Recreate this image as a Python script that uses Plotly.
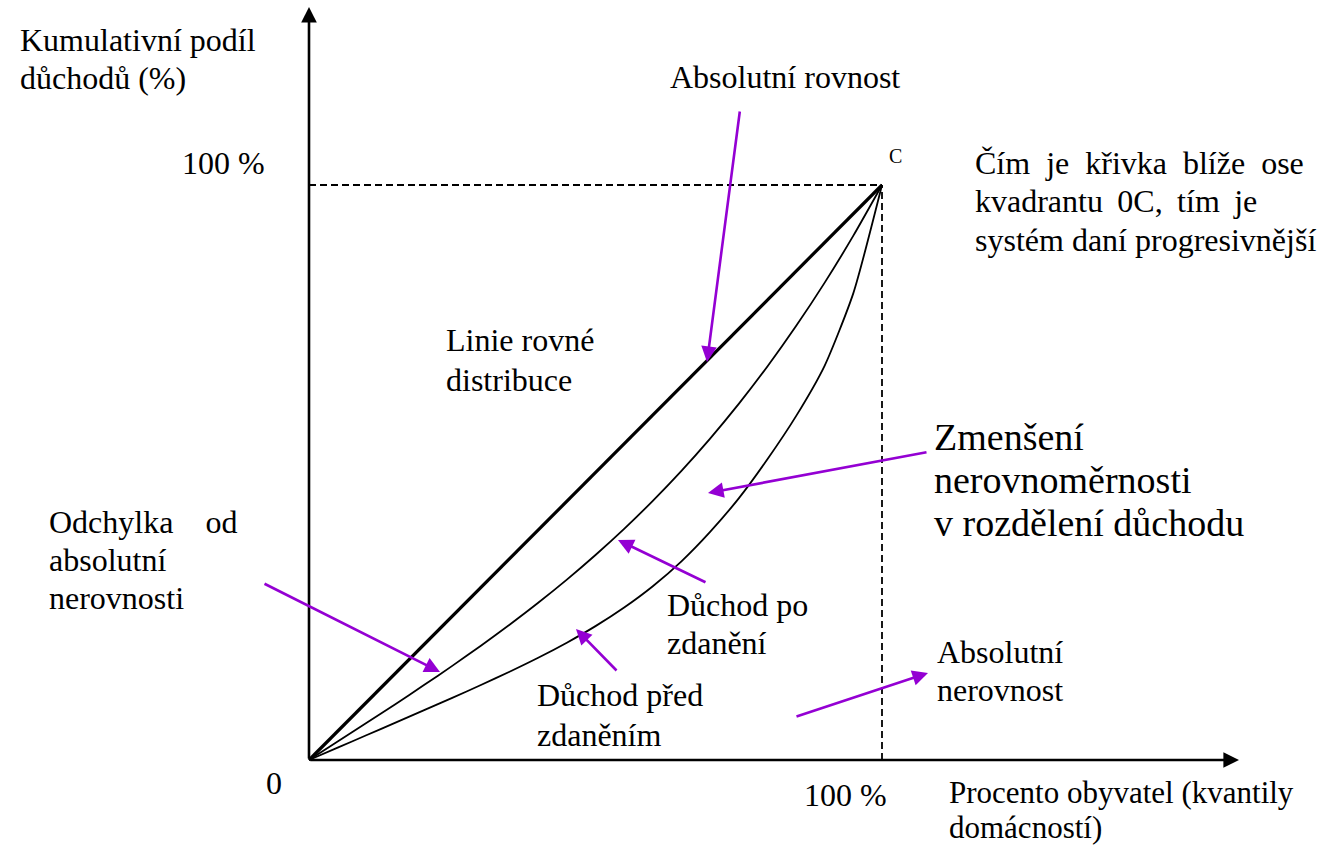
import plotly.graph_objects as go

# ---- data (percent of households vs cumulative share of income) ----
equality_x = [0, 100]
equality_y = [0, 100]
pct = [0, 5, 10, 15, 20, 25, 30, 35, 40, 45, 50, 55, 60, 65, 70, 75, 80, 85, 90, 95, 100]
after_tax_y = [0, 3.2, 6.42, 9.67, 12.98, 16.37, 19.88, 23.53, 27.35, 31.38, 35.66,
               40.2, 45.07, 50.29, 55.9, 61.93, 68.43, 75.46, 83.02, 91.19, 100]
before_tax_y = [0, 2.15, 4.3, 6.45, 8.62, 10.81, 13.04, 15.35, 17.78, 20.4, 23.28,
                26.52, 30.23, 34.56, 39.68, 45.5, 52.3, 59.8, 68.6, 81.2, 100]

W, H = 1324, 845
OX, OY = 309, 760          # origin pixel
SX, SY = 5.73, 5.75        # pixels per unit

def dx(px):
    return (px - OX) / SX

def dy(py):
    return (OY - py) / SY

PURPLE = "#9400D3"
FONT = "Liberation Serif, Times New Roman, serif"
FS = 32
NB = "\u00a0"
TH = "\u2009"

fig = go.Figure()
fig.add_trace(go.Scatter(x=equality_x, y=equality_y, mode="lines",
                         line=dict(color="black", width=3.2), hoverinfo="skip"))
fig.add_trace(go.Scatter(x=pct, y=after_tax_y, mode="lines",
                         line=dict(color="black", width=1.8, shape="spline", smoothing=0.6),
                         hoverinfo="skip"))
fig.add_trace(go.Scatter(x=pct, y=before_tax_y, mode="lines",
                         line=dict(color="black", width=1.8, shape="spline", smoothing=0.6),
                         hoverinfo="skip"))

# dashed guides to C
fig.add_shape(type="line", x0=0, y0=100, x1=100, y1=100, xref="x", yref="y",
              line=dict(color="black", width=1.8, dash="7px,4px"))
fig.add_shape(type="line", x0=100, y0=0, x1=100, y1=100, xref="x", yref="y",
              line=dict(color="black", width=1.8, dash="7px,4px"))

ann = []

def arrow(tail, tip, color, width, size):
    ann.append(dict(x=tip[0], y=tip[1], ax=tail[0], ay=tail[1], xref="x", yref="y",
                    axref="x", ayref="y", text="", showarrow=True, arrowhead=2,
                    arrowsize=size, arrowwidth=width, arrowcolor=color, standoff=0))

# axes with arrowheads
arrow((0, 0), (0, dy(7)), "black", 2.6, 1.2)
arrow((0, 0), (dx(1239), 0), "black", 2.6, 1.2)

# purple pointer arrows
arrow((dx(740), dy(110)), (dx(707), dy(362)), PURPLE, 2.6, 1.2)
arrow((dx(928), dy(452)), (dx(708), dy(493)), PURPLE, 2.6, 1.2)
arrow((dx(707), dy(583)), (dx(618), dy(540)), PURPLE, 2.6, 1.2)
arrow((dx(618), dy(672)), (dx(576), dy(629)), PURPLE, 2.6, 1.2)
arrow((dx(263), dy(583)), (dx(440), dy(672)), PURPLE, 2.6, 1.2)
arrow((dx(795), dy(717)), (dx(928), dy(673)), PURPLE, 2.6, 1.2)

def label(text, px, py, size=FS, anchor="left", pad=1):
    ann.append(dict(x=px / W, y=1 - py / H, xref="paper", yref="paper", text=text,
                    showarrow=False, xanchor=anchor, yanchor="middle", borderpad=pad,
                    font=dict(family=FONT, size=size, color="black")))

label("Kumulativní podíl", 18, 40)
label("důchodů (%)", 18, 78)
label("100 %", 180, 163)
label("Absolutní rovnost", 668, 77)
label("C", 895, 156, size=20, anchor="center")
label("Čím" + NB * 2 + "je" + NB * 2 + "křivka" + NB * 2 + "blíže" + NB * 2 + "ose", 973, 163)
label("kvadrantu" + NB + TH + "0C," + NB + TH + "tím" + NB + TH + "je", 973, 201)
label("systém daní progresivnější", 973, 240)
label("Linie rovné", 444, 340)
label("distribuce", 444, 380)
label("Zmenšení", 932, 437, size=38)
label("nerovnoměrnosti", 932, 480, size=38)
label("v rozdělení důchodu", 932, 523, size=38)
label("Odchylka" + NB * 4 + "od", 47, 522)
label("absolutní", 47, 560)
label("nerovnosti", 47, 598)
label("Důchod po", 665, 605)
label("zdanění", 665, 643)
label("Absolutní", 935, 652)
label("nerovnost", 935, 690)
label("Důchod před", 535, 695)
label("zdaněním", 535, 735)
label("0", 274, 783, anchor="center")
label("100 %", 802, 795)
label("Procento obyvatel (kvantily", 948, 792, size=31, pad=0)
label("domácností)", 948, 827, size=31, pad=0)

fig.update_layout(
    width=W, height=H,
    margin=dict(l=0, r=0, t=0, b=0),
    paper_bgcolor="white", plot_bgcolor="white",
    showlegend=False,
    xaxis=dict(range=[dx(0), dx(W)], visible=False, fixedrange=True),
    yaxis=dict(range=[dy(H), dy(0)], visible=False, fixedrange=True),
    annotations=ann,
)

fig.write_html("out.html", config={"displayModeBar": False},
               post_script="document.body.style.margin='0';document.body.style.overflow='hidden';")
